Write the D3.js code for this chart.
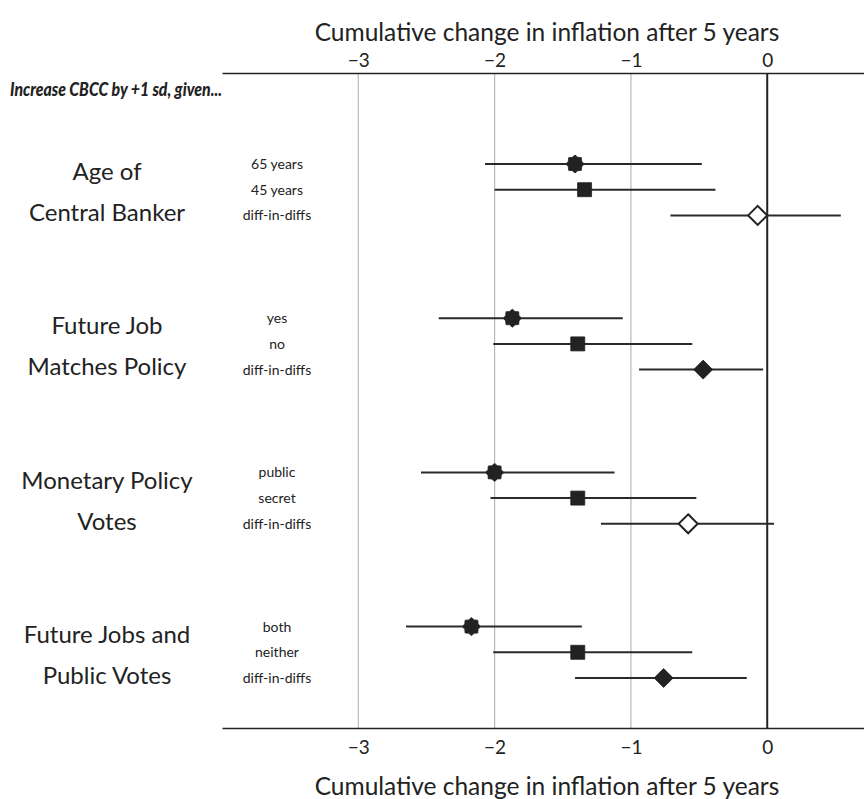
<!DOCTYPE html>
<html>
<head>
<meta charset="utf-8">
<script src="https://cdn.jsdelivr.net/npm/d3@7"></script>
<style>
  html, body { margin: 0; padding: 0; background: #fff; }
  svg text { font-family: Lato, "Open Sans", sans-serif; fill: #222; }
</style>
</head>
<body>
<svg id="chart" width="864" height="799"></svg>
<script>
// Effect of a +1 sd increase in CBCC on cumulative inflation after 5 years
const groupLabels = [
  ["Age of", "Central Banker"],
  ["Future Job", "Matches Policy"],
  ["Monetary Policy", "Votes"],
  ["Future Jobs and", "Public Votes"]
];
const rowLabels = [
  ["65 years", "45 years", "diff-in-diffs"],
  ["yes", "no", "diff-in-diffs"],
  ["public", "secret", "diff-in-diffs"],
  ["both", "neither", "diff-in-diffs"]
];
const estimates = [
  [-1.41, -1.34, -0.07],
  [-1.87, -1.39, -0.47],
  [-2.00, -1.39, -0.58],
  [-2.17, -1.39, -0.76]
];
const lowerCI = [
  [-2.07, -2.00, -0.71],
  [-2.41, -2.01, -0.94],
  [-2.54, -2.03, -1.22],
  [-2.65, -2.01, -1.41]
];
const upperCI = [
  [-0.48, -0.38, 0.54],
  [-1.06, -0.55, -0.03],
  [-1.12, -0.52, 0.05],
  [-1.36, -0.55, -0.15]
];
// marker per row: star, square, diamond (open = diff-in-diffs interval crosses zero)
const markerShapes = ["star", "square", "diamond"];
const markerFilled = [
  [true, true, false],
  [true, true, true],
  [true, true, false],
  [true, true, true]
];
const xTicks = [-3, -2, -1, 0];
const axisTitle = "Cumulative change in inflation after 5 years";
const header = "Increase CBCC by +1 sd, given...";

const svg = d3.select("#chart");
const plotTop = 73, plotBottom = 728;

const x = d3.scaleLinear().domain([-4, 0.71]).range([222, 864]);
// 6 slots per group: 3 rows + spacing
const y = d3.scaleLinear().domain([0, 20]).range([164, 678]);
const rowIndex = (g, i) => g * 6 + i;

const fmt = d => d < 0 ? "\u2212" + Math.abs(d) : String(d);

// gridlines
svg.append("g").selectAll("line")
  .data(xTicks.filter(d => d !== 0))
  .join("line")
  .attr("x1", d => x(d)).attr("x2", d => x(d))
  .attr("y1", plotTop).attr("y2", plotBottom)
  .attr("stroke", "#b8b8b8").attr("stroke-width", 1.2);

// zero line
svg.append("line")
  .attr("x1", x(0)).attr("x2", x(0))
  .attr("y1", plotTop).attr("y2", plotBottom)
  .attr("stroke", "#222").attr("stroke-width", 2);

// axes
const topAxis = d3.axisTop(x).tickValues(xTicks).tickFormat(fmt).tickSize(0).tickPadding(6);
const bottomAxis = d3.axisBottom(x).tickValues(xTicks).tickFormat(fmt).tickSize(0).tickPadding(13);

function styleAxis(g) {
  g.select(".domain").attr("stroke", "#222").attr("stroke-width", 1.6);
  g.selectAll(".tick text")
    .style("font-family", "Lato, 'Open Sans', sans-serif")
    .style("font-size", "19px").attr("fill", "#222");
}
svg.append("g").attr("transform", `translate(0,${plotTop})`).call(topAxis).call(styleAxis);
svg.append("g").attr("transform", `translate(0,${plotBottom})`).call(bottomAxis).call(styleAxis);

// axis titles
svg.append("text").attr("x", 547).attr("y", 41)
  .attr("text-anchor", "middle").style("font-size", "24.5px").text(axisTitle);
svg.append("text").attr("x", 547).attr("y", 795)
  .attr("text-anchor", "middle").style("font-size", "24.5px").text(axisTitle);

// header
svg.append("text").attr("x", 10).attr("y", 96)
  .style("font-size", "19.5px").style("font-weight", "900").style("font-style", "italic")
  .attr("textLength", 212).attr("lengthAdjust", "spacingAndGlyphs")
  .text(header);

// rows
const rows = [];
groupLabels.forEach((gl, g) => {
  for (let i = 0; i < 3; i++) {
    rows.push({
      g, i,
      label: rowLabels[g][i],
      est: estimates[g][i],
      lo: lowerCI[g][i],
      hi: upperCI[g][i],
      shape: markerShapes[i],
      filled: markerFilled[g][i]
    });
  }
});

// group labels
const gLab = svg.append("g");
groupLabels.forEach((lines, g) => {
  const yc = y(rowIndex(g, 1)) + 2;
  lines.forEach((t, k) => {
    gLab.append("text")
      .attr("x", 107)
      .attr("y", yc + (k === 0 ? -20 : 21))
      .attr("dy", "0.35em")
      .attr("text-anchor", "middle")
      .style("font-size", "24px")
      .text(t);
  });
});

// row labels
svg.append("g").selectAll("text")
  .data(rows).join("text")
  .attr("x", 277)
  .attr("y", d => y(rowIndex(d.g, d.i)))
  .attr("dy", "0.35em")
  .attr("text-anchor", "middle")
  .style("font-size", "14px")
  .text(d => d.label);

// confidence intervals
svg.append("g").selectAll("line")
  .data(rows).join("line")
  .attr("x1", d => x(d.lo)).attr("x2", d => x(d.hi))
  .attr("y1", d => y(rowIndex(d.g, d.i))).attr("y2", d => y(rowIndex(d.g, d.i)))
  .attr("stroke", "#2a2a2a").attr("stroke-width", 2);

// marker paths
function markerPath(shape) {
  if (shape === "square") {
    const s = 7;
    return `M${-s},${-s}H${s}V${s}H${-s}Z`;
  }
  if (shape === "diamond") {
    const s = 9.5;
    return `M0,${-s}L${s},0L0,${s}L${-s},0Z`;
  }
  // eight-pointed star: square overlaid with rotated square
  const pts = [];
  const ro = 9, ri = 7.2;
  for (let k = 0; k < 16; k++) {
    const a = -Math.PI / 2 + k * Math.PI / 8;
    const r = k % 2 === 0 ? ro : ri;
    pts.push([r * Math.cos(a), r * Math.sin(a)]);
  }
  return "M" + pts.map(p => p[0].toFixed(2) + "," + p[1].toFixed(2)).join("L") + "Z";
}

svg.append("g").selectAll("path")
  .data(rows).join("path")
  .attr("transform", d => `translate(${x(d.est)},${y(rowIndex(d.g, d.i))})`)
  .attr("d", d => markerPath(d.shape))
  .attr("fill", d => d.filled ? "#222" : "#fff")
  .attr("stroke", "#222")
  .attr("stroke-width", d => d.filled ? 0.8 : 2);
</script>
</body>
</html>
